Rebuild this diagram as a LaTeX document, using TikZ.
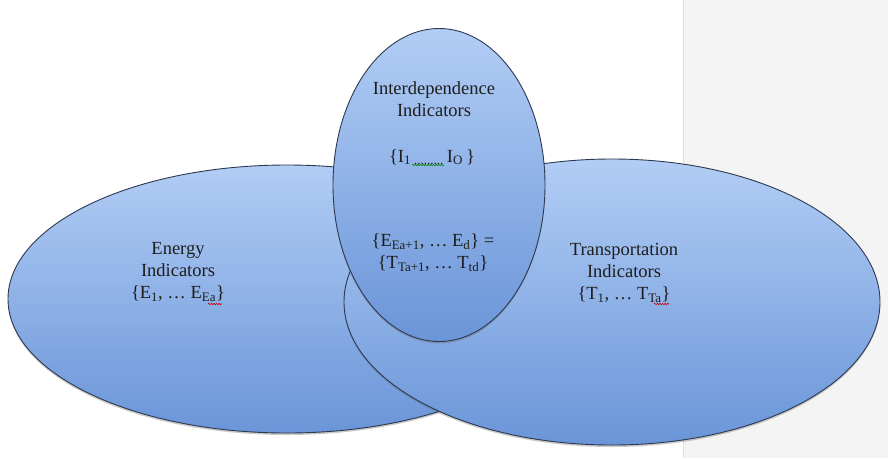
\documentclass[tikz,border=0pt]{standalone}
\usepackage{fontspec}
\setmainfont{Liberation Serif}
\usetikzlibrary{shapes.geometric,shadows,decorations.pathmorphing}
\definecolor{vtop}{HTML}{B2CDF5}
\definecolor{vbot}{HTML}{6A95D8}
\definecolor{vline}{HTML}{2C3950}
\definecolor{panel}{HTML}{F4F4F4}
\definecolor{txt}{HTML}{1E1E1E}
\begin{document}
\begin{tikzpicture}[x=1pt,y=-1pt,
  venn/.style={ellipse, draw=vline, line width=0.9pt, inner sep=0pt,
    top color=vtop, bottom color=vbot,
    drop shadow={shadow xshift=0pt, shadow yshift=-2pt, opacity=0.35, fill=black!60}},
  lbl/.style={align=center, font=\fontsize{18.5}{22}\selectfont, text=txt, inner sep=0pt},
  squig/.style={decorate, decoration={snake, amplitude=0.7pt, segment length=2.6pt}, line width=0.6pt}]
\useasboundingbox (0,0) rectangle (888,458);
\fill[white] (0,0) rectangle (888,458);
\fill[panel] (683,0) rectangle (888,458);
\draw[black!12] (683,0) -- (683,458);

\node[venn, minimum width=558pt, minimum height=268pt] (energy) at (287,299) {};
\node[venn, minimum width=536pt, minimum height=286pt] (transp) at (612,302) {};
\node[venn, minimum width=212pt, minimum height=313pt] (inter) at (439,185) {};

\node[lbl] (etext) at (178,272) {Energy\\Indicators\\\{E\textsubscript{1}, \dots\ E\textsubscript{Ea}\}};
\node[lbl] (ttext) at (624,273) {Transportation\\Indicators\\\{T\textsubscript{1}, \dots\ T\textsubscript{Ta}\}};
\node[lbl] (itext) at (434,99) {Interdependence\\Indicators};
\node[lbl] (iset) at (432,157) {\{I\textsubscript{1}\,\textsubscript{.........}\,I\textsubscript{O}\,\}};
\node[lbl] (shared) at (433,253) {\{E\textsubscript{Ea+1}, \dots\ E\textsubscript{d}\} =\\\{T\textsubscript{Ta+1}, \dots\ T\textsubscript{td}\}};

\draw[squig, red!80!black] (208,304) -- (222,304);
\draw[squig, red!80!black] (654,304) -- (669,304);
\draw[squig, green!50!black] (412,165) -- (444,165);
\end{tikzpicture}
\end{document}
